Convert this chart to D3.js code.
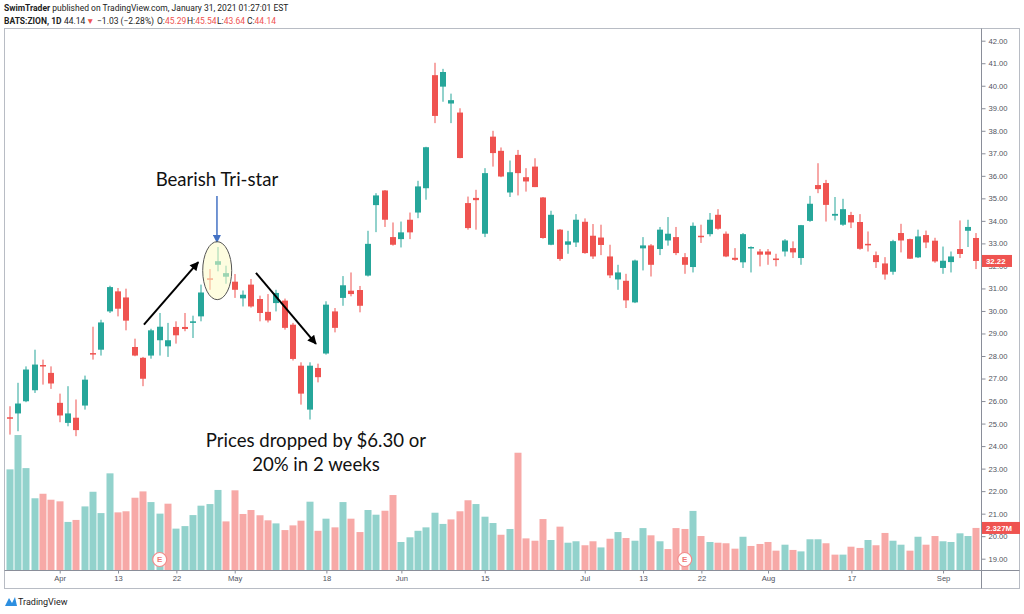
<!DOCTYPE html>
<html><head><meta charset="utf-8">
<script src="https://cdn.jsdelivr.net/npm/d3@7"></script>
<style>body{margin:0;background:#fff;}svg{display:block}</style>
</head><body>
<svg id="c" width="1024" height="614"></svg>
<script>
// ---------- DATA ----------
const dates = [
"2020-03-24","2020-03-25","2020-03-26","2020-03-27","2020-03-30","2020-03-31",
"2020-04-01","2020-04-02","2020-04-03","2020-04-06","2020-04-07","2020-04-08","2020-04-09","2020-04-13","2020-04-14","2020-04-15","2020-04-16","2020-04-17","2020-04-20","2020-04-21","2020-04-22","2020-04-23","2020-04-24","2020-04-27","2020-04-28","2020-04-29","2020-04-30",
"2020-05-01","2020-05-04","2020-05-05","2020-05-06","2020-05-07","2020-05-08","2020-05-11","2020-05-12","2020-05-13","2020-05-14","2020-05-15","2020-05-18","2020-05-19","2020-05-20","2020-05-21","2020-05-22","2020-05-26","2020-05-27","2020-05-28","2020-05-29",
"2020-06-01","2020-06-02","2020-06-03","2020-06-04","2020-06-05","2020-06-08","2020-06-09","2020-06-10","2020-06-11","2020-06-12","2020-06-15","2020-06-16","2020-06-17","2020-06-18","2020-06-19","2020-06-22","2020-06-23","2020-06-24","2020-06-25","2020-06-26","2020-06-29","2020-06-30",
"2020-07-01","2020-07-02","2020-07-06","2020-07-07","2020-07-08","2020-07-09","2020-07-10","2020-07-13","2020-07-14","2020-07-15","2020-07-16","2020-07-17","2020-07-20","2020-07-21","2020-07-22","2020-07-23","2020-07-24","2020-07-27","2020-07-28","2020-07-29","2020-07-30","2020-07-31",
"2020-08-03","2020-08-04","2020-08-05","2020-08-06","2020-08-07","2020-08-10","2020-08-11","2020-08-12","2020-08-13","2020-08-14","2020-08-17","2020-08-18","2020-08-19","2020-08-20","2020-08-21","2020-08-24","2020-08-25","2020-08-26","2020-08-27","2020-08-28","2020-08-31",
"2020-09-01","2020-09-02","2020-09-03","2020-09-04","2020-09-08"];

const openP = [25.28,25.45,25.99,26.48,27.60,27.25,25.92,25.03,25.26,25.80,
28.13,28.28,29.98,30.87,30.60,28.40,27.92,28.02,28.70,28.43,
29.29,29.29,29.47,29.76,31.45,32.05,31.52,31.30,30.56,31.17,
30.53,29.96,30.35,30.46,29.39,27.57,25.62,27.47,28.11,29.98,
30.58,30.90,30.93,31.57,34.70,35.35,33.28,33.19,34.05,34.37,
35.45,40.47,39.96,39.21,38.81,34.79,35.02,33.43,37.74,37.11,
35.26,36.93,35.94,36.41,35.04,32.94,33.61,32.94,33.04,33.96,
33.34,33.26,32.42,31.40,31.34,30.38,32.78,32.91,32.75,33.13,
33.28,32.39,31.95,33.34,33.41,34.27,33.43,32.36,32.16,32.78,
32.64,32.64,32.33,32.64,32.79,32.35,34.00,35.59,35.68,34.23,
33.83,34.26,33.95,32.98,32.48,32.11,31.74,33.46,33.19,32.38,
33.37,33.12,31.91,32.17,32.75,33.56,33.24];

const highP = [25.77,26.81,27.54,28.28,27.84,27.54,26.33,26.66,26.07,27.13,
29.30,29.61,31.12,31.02,30.99,28.77,27.96,29.21,29.91,29.47,
29.54,29.91,29.79,31.17,31.86,32.84,32.01,31.64,30.91,31.42,
30.68,30.75,30.94,30.55,29.47,27.72,27.72,27.66,30.43,30.13,
31.55,31.71,31.11,33.56,35.23,35.37,33.93,33.97,34.37,35.78,
37.29,41.02,40.75,39.65,39.00,35.08,35.38,36.34,38.00,37.26,
36.68,37.15,36.34,36.78,35.06,34.45,33.64,33.56,34.30,34.11,
33.86,33.83,32.94,32.05,31.65,32.28,33.28,32.97,33.73,34.17,
33.73,32.57,33.93,33.83,34.35,34.52,33.53,32.79,33.46,32.87,
32.75,32.75,32.54,33.19,33.09,33.82,35.11,36.56,35.82,35.06,
34.98,34.40,34.30,33.53,32.64,32.39,33.16,33.87,33.21,33.61,
33.57,33.25,32.86,32.64,34.02,34.05,33.46];

const lowP = [24.51,24.66,25.95,26.36,26.73,26.54,25.06,24.88,24.44,25.62,
27.84,28.02,29.91,29.76,29.14,27.99,26.66,27.88,28.02,27.96,
28.55,29.10,28.80,29.54,30.94,31.76,31.21,30.58,30.20,30.15,
29.54,29.49,29.98,29.17,27.80,25.84,25.18,26.83,28.06,29.05,
30.23,30.65,29.94,31.53,33.50,33.73,32.90,32.82,33.19,34.12,
34.94,38.34,39.29,38.34,36.78,33.61,33.61,33.28,36.41,35.94,
35.06,35.13,35.30,35.50,33.21,32.92,32.23,32.54,32.84,32.54,
32.31,32.48,31.46,30.94,30.13,30.35,31.80,31.53,32.48,32.90,
32.48,31.65,31.71,33.02,33.31,33.61,32.39,32.23,31.91,31.71,
31.98,32.05,31.98,32.42,32.35,32.05,33.96,35.23,33.97,34.02,
33.78,33.68,32.72,32.64,31.91,31.39,31.61,32.60,32.31,32.35,
32.79,32.14,31.65,31.71,32.35,32.84,31.86];

const closeP = [25.24,25.89,27.40,27.62,27.55,26.78,25.36,25.45,24.71,26.95,
28.08,29.49,31.06,30.10,29.57,28.02,26.99,29.14,29.30,28.70,
28.92,29.20,29.54,30.82,31.41,32.21,31.68,30.94,30.72,30.20,
29.91,29.58,30.80,29.25,27.87,26.33,27.57,27.06,30.28,29.25,
31.14,30.75,30.23,32.98,35.13,34.05,32.94,33.49,33.49,35.53,
37.27,38.66,40.61,39.36,36.79,33.68,34.92,36.12,37.01,35.97,
36.16,36.12,35.75,35.50,33.24,34.27,32.31,33.09,34.05,32.57,
32.42,32.93,31.58,31.71,30.47,32.24,32.91,32.05,33.61,33.43,
32.57,32.05,33.78,33.30,34.05,33.65,32.42,32.27,33.41,32.84,
32.50,32.50,32.26,33.13,32.60,33.81,34.76,35.41,34.71,34.31,
34.52,33.93,32.76,32.93,32.17,31.62,33.10,33.13,32.32,33.31,
33.04,32.20,32.23,32.42,32.53,33.73,32.22];

// volume in millions
const volumeM = [5.57,7.47,5.64,3.97,4.22,3.89,3.80,2.66,2.77,3.52,
4.33,3.15,5.35,3.19,3.25,4.00,4.35,3.76,3.12,3.67,
2.29,2.43,3.04,3.56,3.65,4.43,2.69,4.41,3.10,3.32,
3.03,2.75,2.58,2.21,2.47,2.73,3.78,2.17,2.84,2.36,
3.76,2.84,2.10,3.32,3.06,3.28,4.15,1.55,1.81,2.17,
2.36,3.17,2.55,2.80,3.25,3.86,3.65,2.95,2.60,1.95,
2.27,6.49,1.75,1.62,2.82,1.66,2.40,1.51,1.59,1.37,
1.59,1.25,1.73,2.10,1.77,1.62,2.32,1.92,1.59,1.16,
2.32,2.27,3.27,1.88,1.55,1.51,1.48,1.18,1.84,1.33,
1.44,1.55,1.07,1.40,1.11,1.03,1.70,1.70,1.48,0.85,
0.85,1.29,1.22,1.66,1.37,2.05,1.62,1.40,1.07,1.84,
1.40,1.88,1.59,1.55,2.03,1.88,2.327];

// volume bar direction (u = up, d = down) as seen in the picture, 10 per group
const volumeDir = ["uuuudddudu","uuudddduud","uuuuuudddd","ddudddudud","udduudduuu",
                   "uuuddduuud","udddduduud","dududuudud","ddududddud","ddduduuudd",
                   "uddudduudu","dduuuud"].join("");

const timeTickDates  = ["2020-04-01","2020-04-13","2020-04-22","2020-05-01","2020-05-18","2020-06-01","2020-06-15","2020-07-01","2020-07-13","2020-07-22","2020-08-03","2020-08-17","2020-09-01"];
const timeTickLabels = ["Apr","13","22","May","18","Jun","15","Jul","13","22","Aug","17","Sep"];
const priceTicks = [19,20,21,22,23,24,25,26,27,28,29,30,31,32,33,34,35,36,37,38,39,40,41,42];
const earningsDates = ["2020-04-20","2020-07-20"];
const lastClose = 32.22;
const lastVolumeLabel = "2.327M";

// ---------- CHART ----------
const svg = d3.select('#c');
const n = dates.length;
const UP = '#26a69a', DN = '#ef5350';
const x = d3.scaleLinear().domain([0, n-1]).range([9.7, 976.4]);
const y = d3.scaleLinear().domain([19, 42]).range([558.7, 40.7]);
const yv = d3.scaleLinear().domain([0, 7.5]).range([570, 434.5]);
const idx = d => dates.indexOf(d);

svg.append('rect').attr('width',1024).attr('height',614).attr('fill','#fff');

const defs = svg.append('defs');
defs.append('clipPath').attr('id','clip').append('rect')
  .attr('x',5).attr('y',29).attr('width',976.5).attr('height',541.5);
function marker(id, color, w, h){
  defs.append('marker').attr('id',id).attr('viewBox','0 0 10 10')
    .attr('refX',9).attr('refY',5).attr('markerUnits','userSpaceOnUse')
    .attr('markerWidth',w).attr('markerHeight',h).attr('orient','auto')
    .append('path').attr('d','M0,0 L10,5 L0,10 Z').attr('fill',color);
}
marker('arrBlack','#000',10,9);
marker('arrBlue','#4472c4',8,8);

const plot = svg.append('g').attr('clip-path','url(#clip)');

// volume
plot.append('g').selectAll('rect').data(volumeM).join('rect')
  .attr('x',(v,i)=>Math.round(x(i))-3.5)
  .attr('width',7)
  .attr('y',v=>yv(v))
  .attr('height',v=>570-yv(v))
  .attr('fill',(v,i)=> (volumeDir[i]==='d') ? DN : UP)
  .attr('fill-opacity',0.5);

// candles
const candles = plot.append('g').selectAll('g').data(dates).join('g');
const col = i => closeP[i] >= openP[i] ? UP : DN;
candles.append('rect')
  .attr('x',(d,i)=>Math.round(x(i))-0.5).attr('width',1)
  .attr('y',(d,i)=>y(highP[i])).attr('height',(d,i)=>y(lowP[i])-y(highP[i]))
  .attr('fill',(d,i)=>col(i));
candles.append('rect')
  .attr('x',(d,i)=>Math.round(x(i))-3).attr('width',6)
  .attr('y',(d,i)=>y(Math.max(openP[i],closeP[i])))
  .attr('height',(d,i)=>Math.max(1.5, Math.abs(y(openP[i])-y(closeP[i]))))
  .attr('fill',(d,i)=>col(i));

// earnings markers
const eg = plot.append('g').selectAll('g').data(earningsDates).join('g')
  .attr('transform',d=>`translate(${x(idx(d))},559.5)`);
eg.append('circle').attr('r',7).attr('fill','#fff').attr('stroke','#f28b8b').attr('stroke-width',1.2);
eg.append('text').text('E').attr('text-anchor','middle').attr('dy','0.35em')
  .attr('font-family','Liberation Sans, Arial, sans-serif').attr('font-size',8).attr('font-weight','bold').attr('fill','#ef7a7a');

// frame
svg.append('rect').attr('x',4.5).attr('y',28.5).attr('width',1015).attr('height',560)
  .attr('fill','none').attr('stroke','#b8bcc4');
svg.append('line').attr('x1',981.5).attr('x2',981.5).attr('y1',28.5).attr('y2',588.5).attr('stroke','#8a8e99');
svg.append('line').attr('x1',4.5).attr('x2',1019.5).attr('y1',570.5).attr('y2',570.5).attr('stroke','#8a8e99');

const axisFont = 'Liberation Sans, Arial, sans-serif';
// price axis
const pa = svg.append('g').attr('transform','translate(981.5,0)')
  .call(d3.axisRight(y).tickValues(priceTicks).tickFormat(d3.format('.2f')).tickSize(4).tickPadding(3));
pa.select('.domain').remove();
pa.selectAll('line').attr('stroke','#8a8e99');
pa.selectAll('text').attr('font-family',axisFont).attr('font-size',7.6).attr('fill','#50535e');

// time axis
const ta = svg.append('g').attr('transform','translate(0,570.5)')
  .call(d3.axisBottom(x).tickValues(timeTickDates.map(idx))
    .tickFormat((d,i)=>timeTickLabels[i]).tickSize(3).tickPadding(2));
ta.select('.domain').remove();
ta.selectAll('line').attr('stroke','#8a8e99');
ta.selectAll('text').attr('font-family',axisFont).attr('font-size',7.6).attr('fill','#50535e');

// last value labels
function tag(yy, w, txt){
  const g = svg.append('g').attr('transform',`translate(982,${yy})`);
  g.append('rect').attr('x',0).attr('y',-6).attr('width',w).attr('height',12).attr('fill',DN);
  g.append('text').text(txt).attr('x',4).attr('dy','0.35em')
    .attr('font-family',axisFont).attr('font-size',7.8).attr('font-weight','bold').attr('fill','#fff');
}
tag(y(lastClose), 30, d3.format('.2f')(lastClose));
tag(yv(volumeM[n-1]), 38, lastVolumeLabel);

// ---------- ANNOTATIONS ----------
const annFont = 'Lato, "Open Sans", sans-serif';
svg.append('text').text('Bearish Tri-star').attr('x',x(24.87)).attr('y',y(35.55))
  .attr('text-anchor','middle').attr('font-family',annFont).attr('font-size',18.6).attr('fill','#111');
svg.append('line').attr('x1',x(24.87)).attr('x2',x(24.87)).attr('y1',y(35.1)).attr('y2',y(33.05))
  .attr('stroke','#4472c4').attr('stroke-width',1.5).attr('marker-end','url(#arrBlue)');
svg.append('ellipse').attr('cx',x(24.9)).attr('cy',y(31.79)).attr('rx',14.5).attr('ry',29)
  .attr('fill','#fdfbc6').attr('fill-opacity',0.55).attr('stroke','#555').attr('stroke-width',1);
svg.append('line').attr('x1',x(16.11)).attr('y1',y(29.39)).attr('x2',x(22.63)).attr('y2',y(32.17))
  .attr('stroke','#000').attr('stroke-width',2).attr('marker-end','url(#arrBlack)');
svg.append('line').attr('x1',x(29.55)).attr('y1',y(31.69)).attr('x2',x(36.75)).attr('y2',y(28.54))
  .attr('stroke','#000').attr('stroke-width',2).attr('marker-end','url(#arrBlack)');
const t2 = svg.append('text').attr('text-anchor','middle').attr('font-family',annFont)
  .attr('font-size',18.6).attr('fill','#111');
t2.append('tspan').attr('x',x(36.75)).attr('y',447.3).text('Prices dropped by $6.30 or');
t2.append('tspan').attr('x',x(36.75)).attr('y',470.7).text('20% in 2 weeks');

// ---------- HEADER ----------
const hf = 'Roboto, "Liberation Sans", Arial, sans-serif';
const h1 = svg.append('text').attr('x',4).attr('y',11).attr('font-family',hf).attr('font-size',8.5).attr('fill','#222');
h1.append('tspan').attr('font-weight','bold').text('SwimTrader');
h1.append('tspan').text(' published on TradingView.com, January 31, 2021 01:27:01 EST');
const h2 = svg.append('text').attr('y',24).attr('font-family',hf).attr('font-size',8.5).attr('fill','#222');
h2.append('tspan').attr('x',4).attr('font-weight','bold').text('BATS:ZION, 1D');
h2.append('tspan').attr('x',64).text('44.14');
h2.append('tspan').attr('x',86).attr('fill',DN).text('▼');
h2.append('tspan').attr('x',97).text('−1.03 (−2.28%)');
[["O:","45.29",157],["H:","45.54",187],["L:","43.64",217],["C:","44.14",247]].forEach(([k,v,px])=>{
  h2.append('tspan').attr('x',px).text(k);
  h2.append('tspan').attr('fill',DN).text(v);
});

// TradingView logo
const lg = svg.append('g').attr('transform','translate(5,596)');
lg.append('path').attr('d','M0,10 L4,2 L7,7 L10,1 L12,10 Z').attr('fill','#2d8fe0');
svg.append('text').attr('x',18).attr('y',605).text('TradingView')
  .attr('font-family',hf).attr('font-size',9).attr('fill','#1a1a1a');
</script>
</body></html>
